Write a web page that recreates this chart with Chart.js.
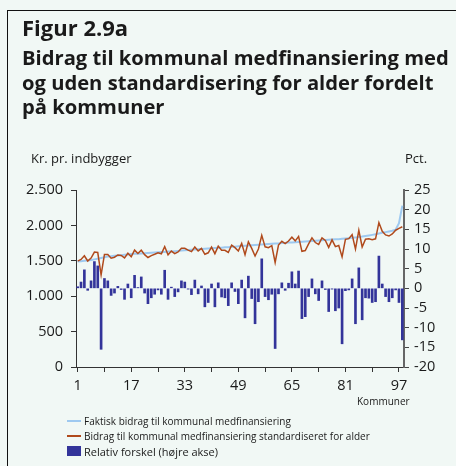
<!DOCTYPE html>
<html lang="da">
<head>
  <meta charset="UTF-8">
  <title>Figur 2.9a</title>
  <style>
    body { margin: 0; background: #f1f8f5; }
    .page {
      position: relative;
      width: 456px;
      height: 466px;
      overflow: hidden;
      background: #f1f8f5;
      font-family: "Open Sans", sans-serif;
      color: #1a1a1a;
    }
    #chart { position: absolute; left: 0; top: 0; }
    .frame-top { position: absolute; left: 7px; top: 10px; width: 449px; height: 1px; background: #111; }
    .frame-left { position: absolute; left: 7px; top: 10px; width: 1px; height: 456px; background: #111; }
    .title {
      position: absolute; left: 22px; top: 14px;
      font-weight: bold; font-size: 20.2px; line-height: 24.5px;
    }
    .title .fig { font-size: 22px; line-height: 26px; margin-bottom: 5px; }
    .axis-title { position: absolute; font-size: 13px; top: 149px; }
    .kommuner { position: absolute; left: 357px; top: 394px; font-size: 10px; }
    .legend { position: absolute; left: 67px; top: 413px; font-size: 10px; }
    .legend div { height: 15px; display: flex; align-items: center; }
    .legend .ln { width: 14px; height: 2px; margin-right: 3px; }
    .legend .box { width: 14px; height: 10px; margin-right: 3px; }
  </style>
</head>
<body>
  <div class="page">
    <canvas id="chart" width="456" height="466"></canvas>
    <div class="frame-top"></div>
    <div class="frame-left"></div>
    <div class="title">
      <div class="fig">Figur 2.9a</div>
      <div>Bidrag til kommunal medfinansiering med</div>
      <div>og uden standardisering for alder fordelt</div>
      <div>på kommuner</div>
    </div>
    <div class="axis-title" style="left:31px">Kr. pr. indbygger</div>
    <div class="axis-title" style="left:405px">Pct.</div>
    <div class="kommuner">Kommuner</div>
    <div class="legend">
      <div><span class="ln" style="background:#9ec9f0"></span>Faktisk bidrag til kommunal medfinansiering</div>
      <div><span class="ln" style="background:#b04a1c"></span>Bidrag til kommunal medfinansiering standardiseret for alder</div>
      <div style="font-size:11px;height:16px"><span class="box" style="background:#33349a"></span>Relativ forskel (højre akse)</div>
    </div>
  </div>

  <script src="https://cdn.jsdelivr.net/npm/chart.js"></script>
  <script>
    // kommuner 1..98, labels shown every 16th
    const kommuner = Array.from({ length: 98 }, (_, i) => String(i + 1));
    const tickLabels = ['1', '17', '33', '49', '65', '81', '97'];

    // Faktisk bidrag (kr. pr. indbygger)
    const faktisk = [
      1490, 1495, 1500, 1505, 1510, 1520, 1530, 1540, 1550, 1560,
      1565, 1570, 1575, 1580, 1585, 1590, 1595, 1598, 1600, 1603,
      1606, 1610, 1613, 1616, 1620, 1623, 1626, 1630, 1633, 1636,
      1640, 1645, 1650, 1653, 1656, 1660, 1663, 1666, 1670, 1673,
      1676, 1680, 1683, 1686, 1690, 1693, 1697, 1700, 1705, 1710,
      1713, 1716, 1720, 1723, 1726, 1730, 1733, 1736, 1740, 1743,
      1746, 1750, 1753, 1757, 1760, 1763, 1766, 1770, 1773, 1776,
      1780, 1783, 1786, 1790, 1793, 1796, 1800, 1803, 1806, 1810,
      1815, 1820, 1825, 1830, 1836, 1842, 1850, 1858, 1866, 1875,
      1885, 1895, 1905, 1915, 1925, 1940, 2030, 2280
    ];

    // Standardiseret for alder (kr. pr. indbygger)
    const standardiseret = [
      1496, 1519, 1571, 1497, 1539, 1623, 1617, 1301, 1589, 1590,
      1537, 1551, 1583, 1575, 1541, 1607, 1557, 1651, 1603, 1649,
      1587, 1547, 1574, 1592, 1614, 1599, 1701, 1584, 1638, 1602,
      1625, 1676, 1676, 1650, 1630, 1695, 1640, 1676, 1592, 1613,
      1694, 1601, 1707, 1649, 1649, 1618, 1721, 1686, 1639, 1746,
      1585, 1769, 1675, 1568, 1667, 1860, 1697, 1686, 1714, 1476,
      1722, 1775, 1744, 1780, 1834, 1782, 1844, 1634, 1645, 1739,
      1823, 1758, 1731, 1824, 1788, 1690, 1796, 1700, 1716, 1555,
      1804, 1813, 1869, 1665, 1931, 1695, 1806, 1812, 1799, 1811,
      2040, 1916, 1865, 1850, 1879, 1932, 1957, 1981
    ];

    // Relativ forskel (pct., højre akse)
    const relativForskel = [
      0.4, 1.6, 4.7, -0.5, 1.9, 6.8, 5.7, -15.5, 2.5, 1.9,
      -1.8, -1.2, 0.5, -0.3, -2.8, 1.1, -2.4, 3.3, 0.2, 2.9,
      -1.2, -3.9, -2.4, -1.5, -0.4, -1.5, 4.6, -2.8, 0.3, -2.1,
      -0.9, 1.9, 1.6, -0.2, -1.6, 2.1, -1.4, 0.6, -4.7, -3.6,
      1.1, -4.7, 1.4, -2.2, -2.4, -4.4, 1.4, -0.8, -3.9, 2.1,
      -7.5, 3.1, -2.6, -9.0, -3.4, 7.5, -2.1, -2.9, -1.5, -15.3,
      -1.4, 1.4, -0.5, 1.3, 4.2, 1.1, 4.4, -7.7, -7.2, -2.1,
      2.4, -1.4, -3.1, 1.9, -0.3, -5.9, -0.2, -5.7, -5.0, -14.1,
      -0.6, -0.4, 2.4, -9.0, 5.2, -8.0, -2.4, -2.5, -3.6, -3.4,
      8.2, 1.1, -2.1, -3.4, -2.4, -0.4, -3.6, -13.1
    ];

    const textColor = '#1a1a1a';
    const tickFont = { family: 'Open Sans', size: 14.5 };

    new Chart(document.getElementById('chart'), {
      type: 'bar',
      data: {
        labels: kommuner,
        datasets: [
          {
            type: 'line',
            label: 'Faktisk bidrag til kommunal medfinansiering',
            data: faktisk,
            yAxisID: 'y',
            borderColor: '#9ec9f0',
            borderWidth: 2,
            pointRadius: 0,
            tension: 0,
            order: 2
          },
          {
            type: 'line',
            label: 'Bidrag til kommunal medfinansiering standardiseret for alder',
            data: standardiseret,
            yAxisID: 'y',
            borderColor: '#b04a1c',
            borderWidth: 1.5,
            pointRadius: 0,
            tension: 0,
            order: 1
          },
          {
            label: 'Relativ forskel (højre akse)',
            data: relativForskel,
            yAxisID: 'y1',
            backgroundColor: '#33349a',
            barThickness: 2,
            order: 3
          }
        ]
      },
      options: {
        responsive: false,
        animation: false,
        layout: { padding: { left: 16, right: 12, top: 190, bottom: 69 } },
        plugins: {
          legend: { display: false },
          tooltip: { enabled: false }
        },
        scales: {
          x: {
            offset: true,
            afterFit: s => { s.height = 30; },
            border: { color: '#333', width: 1 },
            grid: {
              drawOnChartArea: false,
              offset: false,
              tickLength: 5,
              tickColor: ctx => (ctx.index % 8 === 0 ? '#333' : 'rgba(0,0,0,0)')
            },
            ticks: {
              autoSkip: false,
              maxRotation: 0,
              padding: 5,
              color: textColor,
              font: tickFont,
              callback: (v, i) => (tickLabels.includes(kommuner[i]) ? kommuner[i] : '')
            }
          },
          y: {
            position: 'left',
            min: 0,
            max: 2500,
            afterFit: s => { s.width = 60; },
            border: { color: '#333', width: 1 },
            grid: { drawOnChartArea: false, tickLength: 5, tickColor: '#333' },
            ticks: {
              stepSize: 500,
              autoSkip: false,
              padding: 8,
              color: textColor,
              font: tickFont,
              callback: v => v.toLocaleString('da-DK')
            }
          },
          y1: {
            position: 'right',
            min: -20,
            max: 25,
            afterFit: s => { s.width = 40; },
            border: { color: '#666', width: 2 },
            grid: { drawOnChartArea: false, tickLength: 5, tickColor: '#444' },
            ticks: {
              stepSize: 5,
              autoSkip: false,
              padding: 5,
              color: textColor,
              font: tickFont
            }
          }
        }
      }
    });
  </script>
</body>
</html>
